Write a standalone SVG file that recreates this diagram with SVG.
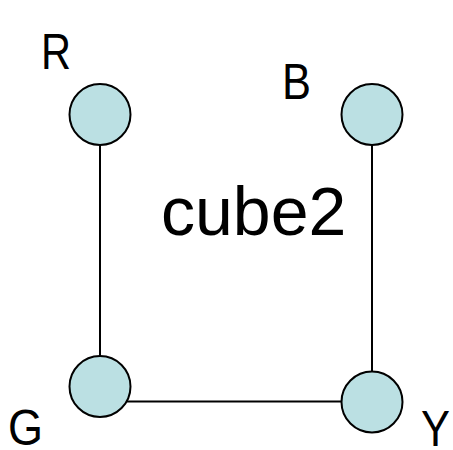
<svg xmlns="http://www.w3.org/2000/svg" width="453" height="450" viewBox="0 0 453 450">
<style>
.node{fill:#bbe0e3;stroke:#000;stroke-width:2}
.lbl{font-family:"Liberation Sans",Arial,sans-serif;font-size:50px;fill:#000}
.edge{stroke:#000;stroke-width:2;fill:none}
</style>
<rect width="453" height="450" fill="#fff"/>
<g id="edges">
<line class="edge" x1="100" y1="145" x2="100" y2="357"/>
<line class="edge" x1="372" y1="145" x2="372" y2="372"/>
<line class="edge" x1="126" y1="401.5" x2="342" y2="401.5"/>
</g>
<g id="R"><circle class="node" cx="100" cy="114.5" r="30.5"/><text class="lbl" x="41" y="69" textLength="30" lengthAdjust="spacingAndGlyphs">R</text></g>
<g id="B"><circle class="node" cx="372" cy="114.5" r="30.5"/><text class="lbl" x="282" y="99" textLength="29" lengthAdjust="spacingAndGlyphs">B</text></g>
<g id="G"><circle class="node" cx="100" cy="386.5" r="30.5"/><text class="lbl" x="8" y="445" textLength="35" lengthAdjust="spacingAndGlyphs">G</text></g>
<g id="Y"><circle class="node" cx="372" cy="402" r="30.5"/><text class="lbl" x="421" y="446" textLength="29" lengthAdjust="spacingAndGlyphs">Y</text></g>
<text id="title" class="lbl" x="161" y="235" style="font-size:68px">cube2</text>
</svg>
